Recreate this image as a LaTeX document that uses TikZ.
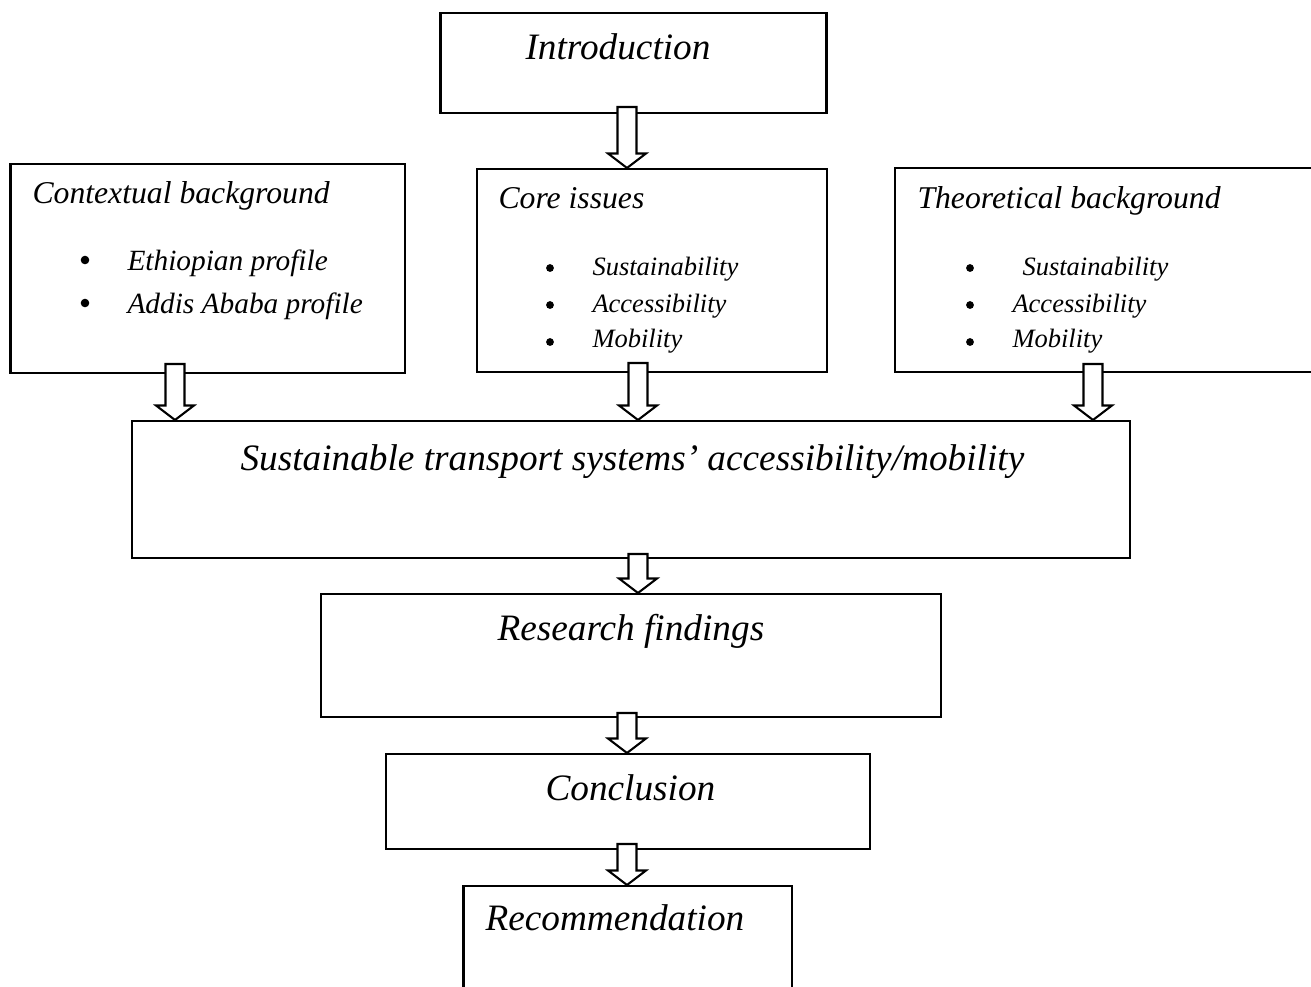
\documentclass[tikz,border=0pt]{standalone}
\usepackage{fontspec}
\setmainfont{Liberation Serif}
\usetikzlibrary{calc,fit}
\tikzset{
  box/.style={draw=black, line width=0.8pt, inner sep=0pt, fill=white},
  blockarrow/.style={draw=black, line width=0.8pt, fill=white, line join=miter},
  tbig/.style={font=\fontsize{14.35}{16}\selectfont\itshape, inner sep=0pt, anchor=base west},
  thead/.style={font=\fontsize{12.2}{14}\selectfont\itshape, inner sep=0pt, anchor=base west},
  titemA/.style={font=\fontsize{11.3}{13}\selectfont\itshape, inner sep=0pt, anchor=base west},
  titemB/.style={font=\fontsize{10.2}{12}\selectfont\itshape, inner sep=0pt, anchor=base west},
  bulletA/.style={circle, fill=black, inner sep=0pt, minimum size=3.3pt},
  bulletB/.style={circle, fill=black, inner sep=0pt, minimum size=3pt},
}
% #1 = top centre of shaft, #2 = tip
\newcommand\hollowarrow[2]{%
  \draw[blockarrow] ($(#1)+(-9.5,0)$) -- ($(#1)+(9.5,0)$) -- ($(#2)+(9.5,-14.5)$)
    -- ($(#2)+(19,-14.5)$) -- (#2) -- ($(#2)+(-19,-14.5)$) -- ($(#2)+(-9.5,-14.5)$) -- cycle;}
\begin{document}
\begin{tikzpicture}[x=0.385pt, y=-0.385pt]
\useasboundingbox (0,0) rectangle (1311,986);
\clip (0,0) rectangle (1311,986);

% boxes
\node[box, fit={(440.5,13) (826.5,113)}] (intro) {};
\node[box, fit={(10.5,164) (405,373)}] (context) {};
\node[box, fit={(477,169) (827,372)}] (core) {};
\node[box, fit={(895,168) (1325,372)}] (theory) {};
\node[box, fit={(132,421) (1130,558)}] (sust) {};
\node[box, fit={(321,594) (941,717)}] (research) {};
\node[box, fit={(386,754) (870,849)}] (concl) {};
\node[box, fit={(463.5,886) (792,1000)}] (recom) {};

% texts
\node[tbig] (introT) at (525,59) {Introduction};

\node[thead] (contextT) at (32,203) {Contextual background};
\node[bulletA] (cb1) at (85,260) {};
\node[titemA] (ct1) at (127,270) {Ethiopian profile};
\node[bulletA] (cb2) at (85,303) {};
\node[titemA] (ct2) at (127,313) {Addis Ababa profile};

\node[thead] (coreT) at (498,208) {Core issues};
\node[bulletB] (kb1) at (550,268) {};
\node[titemB] (kt1) at (592,275) {Sustainability};
\node[bulletB] (kb2) at (550,305) {};
\node[titemB] (kt2) at (592,312) {Accessibility};
\node[bulletB] (kb3) at (550,342) {};
\node[titemB] (kt3) at (592,347) {Mobility};

\node[thead] (theoryT) at (917,208) {Theoretical background};
\node[bulletB] (tb1) at (970,268) {};
\node[titemB] (tt1) at (1022,275) {Sustainability};
\node[bulletB] (tb2) at (970,305) {};
\node[titemB] (tt2) at (1012,312) {Accessibility};
\node[bulletB] (tb3) at (970,342) {};
\node[titemB] (tt3) at (1012,347) {Mobility};

\node[tbig] (sustT) at (240,470) {Sustainable transport systems’ accessibility/mobility};
\node[tbig] (researchT) at (497,640) {Research findings};
\node[tbig] (conclT) at (545,800) {Conclusion};
\node[tbig] (recomT) at (485,930) {Recommendation};

% arrow anchor coordinates
\coordinate (a1s) at (627,107);  \coordinate (a1e) at (a1s |- core.north);
\coordinate (a2s) at (175,364);  \coordinate (a2e) at (a2s |- sust.north);
\coordinate (a3s) at (638,363);  \coordinate (a3e) at (a3s |- sust.north);
\coordinate (a4s) at (1093,364); \coordinate (a4e) at (a4s |- sust.north);
\coordinate (a5s) at (638,554);  \coordinate (a5e) at (a5s |- research.north);
\coordinate (a6s) at (627,713);  \coordinate (a6e) at (a6s |- concl.north);
\coordinate (a7s) at (627,844);  \coordinate (a7e) at (a7s |- recom.north);

\hollowarrow{a1s}{a1e}
\hollowarrow{a2s}{a2e}
\hollowarrow{a3s}{a3e}
\hollowarrow{a4s}{a4e}
\hollowarrow{a5s}{a5e}
\hollowarrow{a6s}{a6e}
\hollowarrow{a7s}{a7e}
\end{tikzpicture}
\end{document}
